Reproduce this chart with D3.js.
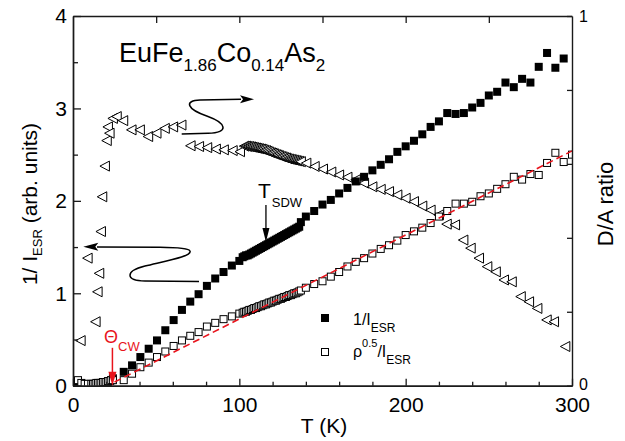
<!DOCTYPE html>
<html><head><meta charset="utf-8">
<script src="https://cdn.jsdelivr.net/npm/d3@7"></script>
<style>
body{margin:0;background:#fff}
svg{display:block}
text{font-family:"Liberation Sans",Arial,sans-serif;fill:#000}
</style>
</head><body>
<svg id="chart" width="625" height="441"></svg>
<script>
// ---------- DATA ----------
const tempsSq = [3,5,7,9,11,12,13,14,15,16,17,18,19,20,21,22,23,24,
  30.5,35.5,40.5,45.5,50.5,55.5,60.5,65.5,70.5,75.5,80.5,85.5,90.5,95.5,100,
  102,103,104,105,106,107,108,109,110,111,112,113,114,115,116,117,118,119,120,121,122,123,124,125,126,127,128,129,130,131,132,133,134,135,136,137,
  140,145,150,155,160,165,170,175,180,185,190,195,200,205,210,215,220,225,230,235,240,245,250,255,260,265,270,275,280,285,290,295,300];
const invIesr = [0.03,0.01,0.00,0.00,0.01,0.01,0.01,0.01,0.01,0.02,0.02,0.02,0.03,0.03,0.04,0.05,0.06,0.08,
  0.15,0.22,0.31,0.40,0.49,0.60,0.71,0.82,0.91,0.99,1.08,1.16,1.23,1.30,1.35,
  1.39,1.40,1.41,1.41,1.42,1.43,1.44,1.45,1.46,1.47,1.48,1.49,1.50,1.51,1.52,1.53,1.54,1.55,1.56,1.57,1.58,1.59,1.60,1.61,1.62,1.63,1.64,1.65,1.66,1.67,1.68,1.69,1.70,1.71,1.72,
  1.77,1.83,1.89,1.96,2.01,2.08,2.14,2.21,2.26,2.33,2.39,2.45,2.53,2.59,2.65,2.72,2.80,2.86,2.95,2.94,2.95,3.01,3.06,3.14,3.18,3.28,3.23,3.32,3.28,3.45,3.60,3.44,3.54];
const rhoInvIesr = [0.06,0.03,0.02,0.02,0.02,0.02,0.02,0.03,0.03,0.03,0.03,0.04,0.04,0.04,0.05,0.05,0.06,0.06,
  0.06,0.13,0.20,0.25,0.31,0.37,0.43,0.49,0.54,0.58,0.64,0.68,0.72,0.75,0.78,
  0.79,0.80,0.80,0.81,0.82,0.82,0.83,0.84,0.84,0.85,0.86,0.86,0.87,0.88,0.88,0.89,0.90,0.90,0.91,0.92,0.92,0.93,0.94,0.94,0.95,0.96,0.96,0.97,0.98,0.98,0.99,1.00,1.00,1.01,1.02,1.03,
  1.06,1.10,1.13,1.18,1.23,1.29,1.34,1.38,1.43,1.48,1.52,1.57,1.63,1.67,1.71,1.76,1.83,1.89,1.97,1.97,1.99,2.05,2.08,2.13,2.18,2.26,2.23,2.29,2.28,2.41,2.52,2.42,2.50];
const tempsDA = [4.6,8.8,13.6,14.8,15.8,16.8,17.6,19.2,20.3,21,22,24,26.3,30.2,35.2,40.2,45.2,50.2,55.2,60.2,65.2,
  70.7,75.8,80.7,85.9,90.7,96,100.4,
  103,104,105,106,107,108,109,110,111,112,113,114,115,116,117,118,119,120,121,122,123,124,125,126,127,128,129,130,131,132,133,134,135,136,137,
  140.3,145.3,150.3,155.3,160,165,170,175,180,185,190,195,200,205,210,215,220,224.7,229.7,234.7,239.1,244.1,249.1,254.2,259.1,263.8,269.2,274.2,279.2,284.8,289.2,296];
const daRatio = [0.122,0.345,0.173,0.254,0.304,0.417,0.511,0.594,0.663,0.700,0.683,0.723,0.728,0.717,0.692,0.692,0.674,0.683,0.696,0.700,0.705,
  0.649,0.647,0.644,0.640,0.638,0.636,0.633,
  0.648,0.648,0.647,0.647,0.646,0.645,0.644,0.643,0.642,0.641,0.640,0.639,0.637,0.636,0.634,0.632,0.630,0.629,0.627,0.625,0.624,0.622,0.620,0.619,0.617,0.616,0.614,0.613,0.612,0.611,0.610,0.609,0.608,0.607,0.606,
  0.602,0.593,0.586,0.578,0.570,0.564,0.557,0.548,0.538,0.531,0.525,0.516,0.507,0.498,0.486,0.475,0.462,0.437,0.435,0.394,0.372,0.345,0.322,0.308,0.286,0.281,0.241,0.227,0.209,0.178,0.173,0.106];
const fitT = [25, 300];
const fitV = [0.04, 2.54];
const xMajorTicks = [0,100,200,300];
const xMinorTicks = [20,40,60,80,120,140,160,180,220,240,260,280];
const xTopTicks = [50,100,150,200,250];
const yMajorTicks = [0,1,2,3,4];
const yMinorTicks = [0.5,1.5,2.5,3.5];
const rTicks = [0,0.2,0.4,0.6,0.8,1];
const rLabels = [0,1];
const thetaCW = 23.7;
const tSDW = 116;
// curly annotation arrows in data units (T, 1/I)
const curlRight = [["M",65.35,2.7233],["L",81.16,2.7309],["C",94.39,2.7363,91.98,2.8424,81.16,2.9127],["C",67.94,2.9938,66.73,3.0858,76.35,3.0912],["L",101.0,3.0988]];
const curlRightTip = [108.82,3.0988];
const curlLeft = [["M",75.75,1.1274],["L",43.29,1.1328],["C",31.26,1.1382,31.26,1.2410,43.29,1.2951],["C",58.32,1.3600,71.54,1.4033,70.34,1.4574],["C",69.74,1.4898,61.32,1.4953,52.30,1.4974],["L",14.43,1.5007]];
const curlLeftTip = [6.19,1.5039];

// ---------- SCALES ----------
const svg = d3.select("#chart");
const x = d3.scaleLinear().domain([0,300]).range([73,572]);
const y = d3.scaleLinear().domain([0,4]).range([385.7,16]);
const yR = d3.scaleLinear().domain([0,1]).range([385.7,16]);
const axisColor = "#1a1a1a";

svg.append("defs").append("clipPath").attr("id","plotclip")
  .append("rect").attr("x",x(0)).attr("y",y(4)).attr("width",x(300)-x(0)).attr("height",y(0)-y(4));

// ---------- DATA MARKS ----------
const plot = svg.append("g").attr("clip-path","url(#plotclip)");
const triPts = tempsDA.map((t,i)=>[t,daRatio[i]]);
plot.append("g").selectAll("path").data(triPts).join("path")
  .attr("d",d=>{const cx=x(d[0]),cy=yR(d[1]);return `M${cx-5},${cy}L${cx+4.5},${cy-5}L${cx+4.5},${cy+5}Z`;})
  .attr("fill","#fff").attr("stroke","#000").attr("stroke-width",1);

const sqPts = tempsSq.map((t,i)=>({t,f:invIesr[i],o:rhoInvIesr[i]}));
const s = 8;
plot.append("g").selectAll("rect").data(sqPts).join("rect")
  .attr("x",d=>x(d.t)-s/2).attr("y",d=>y(d.f)-s/2).attr("width",s).attr("height",s)
  .attr("fill","#000");
plot.append("g").selectAll("rect").data(sqPts).join("rect")
  .attr("x",d=>x(d.t)-s/2+0.5).attr("y",d=>y(d.o)-s/2+0.5).attr("width",s-1).attr("height",s-1)
  .attr("fill","#fff").attr("stroke","#000").attr("stroke-width",1);

plot.append("path").datum(fitT.map((t,i)=>[t,fitV[i]]))
  .attr("d",d3.line().x(d=>x(d[0])).y(d=>y(d[1])))
  .attr("stroke","#e8141c").attr("stroke-width",1.6).attr("stroke-dasharray","7,4").attr("fill","none");

// ---------- AXES ----------
function styleAxis(g){
  g.selectAll(".domain").attr("stroke",axisColor).attr("stroke-width",1.4);
  g.selectAll(".tick line").attr("stroke",axisColor).attr("stroke-width",1.3);
  g.selectAll("text").attr("fill","#000").attr("font-family","Liberation Sans, Arial, sans-serif");
}
const gB = svg.append("g").attr("transform",`translate(0,${y(0)})`)
  .call(d3.axisBottom(x).tickValues(xMajorTicks).tickSizeInner(-7).tickSizeOuter(0).tickPadding(11).tickFormat(d3.format("d")));
gB.selectAll("text").attr("font-size",21);
styleAxis(gB);
const gBm = svg.append("g").attr("transform",`translate(0,${y(0)})`)
  .call(d3.axisBottom(x).tickValues(xMinorTicks).tickSizeInner(-4).tickSizeOuter(0).tickFormat(""));
styleAxis(gBm);
const gT = svg.append("g").attr("transform",`translate(0,${y(4)})`)
  .call(d3.axisTop(x).tickValues(xTopTicks).tickSizeInner(-7).tickSizeOuter(0).tickFormat(""));
styleAxis(gT);
const gL = svg.append("g").attr("transform",`translate(${x(0)},0)`)
  .call(d3.axisLeft(y).tickValues(yMajorTicks).tickSizeInner(-8).tickSizeOuter(0).tickPadding(6).tickFormat(d3.format("d")));
gL.selectAll("text").attr("font-size",21);
styleAxis(gL);
const gLm = svg.append("g").attr("transform",`translate(${x(0)},0)`)
  .call(d3.axisLeft(y).tickValues(yMinorTicks).tickSizeInner(-5).tickSizeOuter(0).tickFormat(""));
styleAxis(gLm);
const gR = svg.append("g").attr("transform",`translate(${x(300)},0)`)
  .call(d3.axisRight(yR).tickValues(rTicks).tickSizeInner(-5).tickSizeOuter(0).tickPadding(7)
    .tickFormat(d=>rLabels.includes(d)?d3.format("d")(d):""));
gR.selectAll("text").attr("font-size",16).attr("dy",d=>d===0?"0.22em":"0.32em");
styleAxis(gR);

// ---------- AXIS TITLES ----------
svg.append("text").attr("x",324).attr("y",433).attr("text-anchor","middle").attr("font-size",21).text("T (K)");
const lt = svg.append("text").attr("transform","translate(37,204) rotate(-90)").attr("text-anchor","middle").attr("font-size",21);
lt.append("tspan").text("1/ I");
lt.append("tspan").attr("font-size",13).attr("dy",5).text("ESR");
lt.append("tspan").attr("dy",-5).text(" (arb. units)");
svg.append("text").attr("transform","translate(613,204) rotate(-90)").attr("text-anchor","middle").attr("font-size",22).text("D/A ratio");

// ---------- TITLE ----------
const tt = svg.append("text").attr("x",119).attr("y",62).attr("font-size",27);
tt.append("tspan").text("EuFe");
tt.append("tspan").attr("font-size",17).attr("dy",9).text("1.86");
tt.append("tspan").attr("dy",-9).text("Co");
tt.append("tspan").attr("font-size",17).attr("dy",9).text("0.14");
tt.append("tspan").attr("dy",-9).text("As");
tt.append("tspan").attr("font-size",17).attr("dy",9).text("2");

// ---------- ANNOTATIONS ----------
function dataPath(segs){
  const p = d3.path();
  segs.forEach(sg=>{
    const [c,...v]=sg;
    if(c==="M") p.moveTo(x(v[0]),y(v[1]));
    else if(c==="L") p.lineTo(x(v[0]),y(v[1]));
    else if(c==="C") p.bezierCurveTo(x(v[0]),y(v[1]),x(v[2]),y(v[3]),x(v[4]),y(v[5]));
  });
  return p.toString();
}
svg.append("path").attr("d",dataPath(curlRight)).attr("fill","none").attr("stroke","#000").attr("stroke-width",1.5);
{
  const tx=x(curlRightTip[0]), ty=y(curlRightTip[1]);
  svg.append("path").attr("d",`M${tx},${ty}L${tx-14},${ty-4}L${tx-11},${ty}L${tx-14},${ty+4}Z`).attr("fill","#000");
}
svg.append("path").attr("d",dataPath(curlLeft)).attr("fill","none").attr("stroke","#000").attr("stroke-width",1.5);
{
  const tx=x(curlLeftTip[0]), ty=y(curlLeftTip[1]);
  svg.append("path").attr("d",`M${tx},${ty}L${tx+15},${ty-4}L${tx+12},${ty}L${tx+15},${ty+4}Z`).attr("fill","#000");
}
// T_SDW arrow
{
  const ax=x(tSDW), y0=y(1.955), y1=y(1.555);
  svg.append("line").attr("x1",ax).attr("x2",ax).attr("y1",y0).attr("y2",y1-10).attr("stroke","#000").attr("stroke-width",1.3);
  svg.append("path").attr("d",`M${ax},${y1}L${ax-3.5},${y1-14}L${ax+3.5},${y1-14}Z`).attr("fill","#000");
  const st = svg.append("text").attr("x",ax-8).attr("y",198).attr("font-size",21);
  st.append("tspan").text("T");
  st.append("tspan").attr("font-size",13).attr("dy",9).attr("dx",1).text("SDW");
}
// Theta_CW arrow
{
  const ax=x(thetaCW), y0=y(0.41), y1=y(0);
  svg.append("line").attr("x1",ax).attr("x2",ax).attr("y1",y0).attr("y2",y1-10).attr("stroke","#e8141c").attr("stroke-width",1.5);
  svg.append("path").attr("d",`M${ax},${y1}L${ax-4},${y1-14}L${ax+4},${y1-14}Z`).attr("fill","#e8141c");
  const tc = svg.append("text").attr("x",104).attr("y",343).attr("font-size",18).style("fill","#e8141c");
  tc.append("tspan").text("Θ");
  tc.append("tspan").attr("font-size",13).attr("dy",8).text("CW");
}

// ---------- LEGEND ----------
svg.append("rect").attr("x",321).attr("y",314).attr("width",8).attr("height",8).attr("fill","#000");
svg.append("rect").attr("x",321.5).attr("y",348.5).attr("width",7).attr("height",7).attr("fill","#fff").attr("stroke","#000");
const l1 = svg.append("text").attr("x",353).attr("y",325).attr("font-size",16);
l1.append("tspan").text("1/I");
l1.append("tspan").attr("font-size",12).attr("dy",7).text("ESR");
const l2 = svg.append("text").attr("x",353).attr("y",357).attr("font-size",16);
l2.append("tspan").text("ρ");
l2.append("tspan").attr("font-size",11).attr("dy",-10).text("0.5");
l2.append("tspan").attr("dy",10).text("/I");
l2.append("tspan").attr("font-size",12).attr("dy",7).text("ESR");
</script>
</body></html>
